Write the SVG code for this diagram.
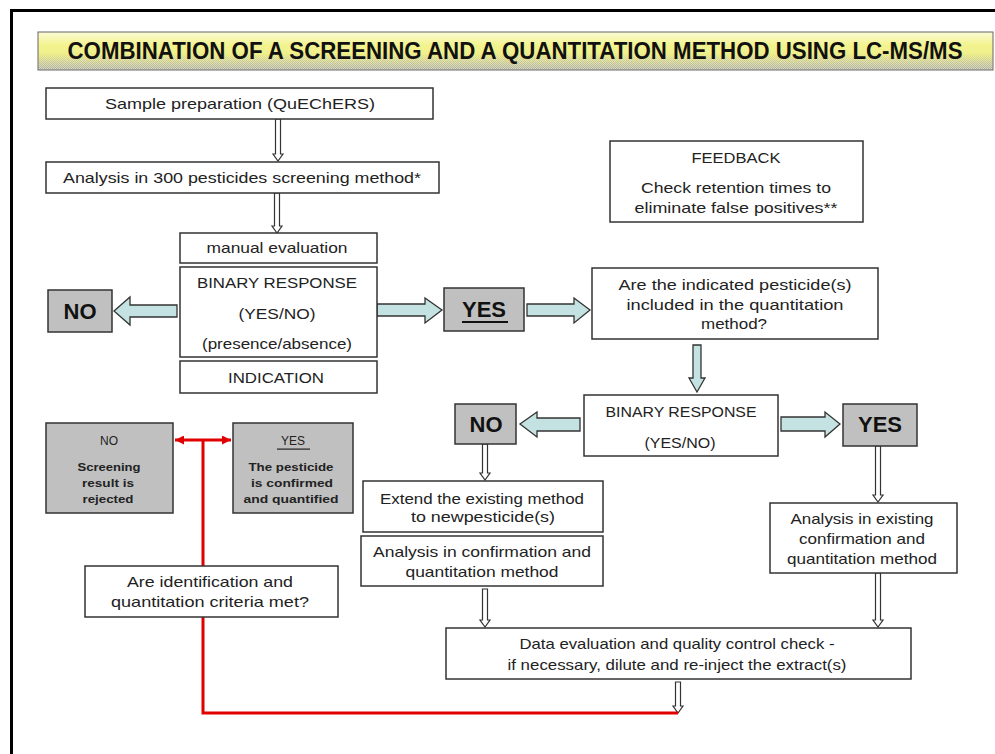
<svg xmlns="http://www.w3.org/2000/svg" width="995" height="754" viewBox="0 0 995 754">
<defs>
<linearGradient id="ban" x1="0" y1="0" x2="0" y2="1">
<stop offset="0" stop-color="#fbfbd6"/>
<stop offset="0.35" stop-color="#f3f38e"/>
<stop offset="0.6" stop-color="#eeee8c"/>
<stop offset="1" stop-color="#d6d6c4"/>
</linearGradient>
<pattern id="dith" width="2" height="2" patternUnits="userSpaceOnUse">
<rect x="0" y="0" width="1" height="1" fill="#9a9a90"/>
<rect x="1" y="1" width="1" height="1" fill="#9a9a90"/>
</pattern>
<linearGradient id="fadeg" x1="0" y1="0" x2="0" y2="1">
<stop offset="0" stop-color="#fff" stop-opacity="0"/>
<stop offset="0.55" stop-color="#fff" stop-opacity="0"/>
<stop offset="1" stop-color="#fff" stop-opacity="0.9"/>
</linearGradient>
<mask id="fm"><rect x="38" y="32" width="955" height="38" fill="url(#fadeg)"/></mask>
<marker id="rh" viewBox="0 0 10 10" refX="10" refY="5" markerWidth="3" markerHeight="3" orient="auto-start-reverse" markerUnits="strokeWidth">
<path d="M0,0 L10,5 L0,10 Z" fill="#e00000"/>
</marker>
</defs>
<style>
.bx{fill:#fff;stroke:#333;stroke-width:1.5}
.gb{fill:#c0c0c0;stroke:#333;stroke-width:1.5}
.t{font-family:"Liberation Sans",Arial,sans-serif;font-size:15px;fill:#222;text-anchor:middle}
.big{font-family:"Liberation Sans",Arial,sans-serif;font-size:22px;font-weight:bold;fill:#111;text-anchor:middle}
.sm{font-family:"Liberation Sans",Arial,sans-serif;font-size:12px;fill:#222;text-anchor:middle}
.smb{font-family:"Liberation Sans",Arial,sans-serif;font-size:11px;font-weight:bold;fill:#222;text-anchor:middle}
.ba{fill:#c4e2e2;stroke:#333;stroke-width:1.3}
.ta{fill:#fff;stroke:#333;stroke-width:1.2}
.red{fill:none;stroke:#e00000;stroke-width:3}
</style>
<rect x="0" y="0" width="995" height="754" fill="#fff"/>
<path d="M11.5,754 V10.5 H995" fill="none" stroke="#000" stroke-width="3"/>

<g id="title">
<rect x="38" y="32" width="955" height="38" fill="url(#ban)" stroke="#666" stroke-width="1"/>
<rect x="38.5" y="52" width="954" height="17.5" fill="url(#dith)" mask="url(#fm)" opacity="0.8"/>
<text transform="translate(515,59) scale(1,1.1)" x="0" y="0" font-family="'Liberation Sans Narrow','Liberation Sans',Arial,sans-serif" font-size="21" font-weight="bold" fill="#111" text-anchor="middle" textLength="895" lengthAdjust="spacingAndGlyphs">COMBINATION OF A SCREENING AND A QUANTITATION METHOD USING LC-MS/MS</text>
</g>

<g id="connectors">
<path class="ta" d="M275.5,119 V154 H273 L278,161 L283,154 H280.5 V119 Z"/>
<path class="ta" d="M274.5,193 V226 H272 L277,233 L282,226 H279.5 V193 Z"/>
<path class="ta" d="M482.5,444 V473 H480 L485,480 L490,473 H487.5 V444 Z"/>
<path class="ta" d="M482.5,589 V620 H480 L485,627 L490,620 H487.5 V589 Z"/>
<path class="ta" d="M875.5,446 V495 H873 L878,502 L883,495 H880.5 V446 Z"/>
<path class="ta" d="M875.5,573 V620 H873 L878,627 L883,620 H880.5 V573 Z"/>
<path class="ta" d="M675.5,682 V706 H673 L678,713 L683,706 H680.5 V682 Z"/>
<path class="ba" d="M177,305 H130 V297 L114,311 L130,325 V317 H177 Z"/>
<path class="ba" d="M377,304 H425 V298 L442,310 L425,323 V316 H377 Z"/>
<path class="ba" d="M527,304 H574 V298 L590,310 L574,323 V316 H527 Z"/>
<path class="ba" d="M693,345 V378 H689 L697,392 L705,378 H701 V345 Z"/>
<path class="ba" d="M580,418 H537 V412 L520,424 L537,437 V431 H580 Z"/>
<path class="ba" d="M781,417 H825 V412 L840,424 L825,437 V431 H781 Z"/>
<path class="red" d="M203,440 V713 H678"/>
<path class="red" d="M175,440 H231" marker-start="url(#rh)" marker-end="url(#rh)"/>
</g>

<g id="sample-prep">
<rect class="bx" x="46" y="88" width="387" height="31"/>
<text class="t" x="240" y="109" textLength="270" lengthAdjust="spacingAndGlyphs">Sample preparation (QuEChERS)</text>
</g>

<g id="analysis-screening">
<rect class="bx" x="46" y="162" width="393" height="31"/>
<text class="t" x="242" y="183" textLength="358" lengthAdjust="spacingAndGlyphs">Analysis in 300 pesticides screening method*</text>
</g>

<g id="manual-evaluation">
<rect class="bx" x="180" y="233" width="197" height="30"/>
<text class="t" x="277" y="253" textLength="141" lengthAdjust="spacingAndGlyphs">manual evaluation</text>
</g>

<g id="binary-response-1">
<rect class="bx" x="180" y="267" width="197" height="90"/>
<text class="t" x="277" y="288" textLength="160" lengthAdjust="spacingAndGlyphs">BINARY RESPONSE</text>
<text class="t" x="277" y="319" textLength="77" lengthAdjust="spacingAndGlyphs">(YES/NO)</text>
<text class="t" x="277" y="349" textLength="150" lengthAdjust="spacingAndGlyphs">(presence/absence)</text>
</g>

<g id="indication">
<rect class="bx" x="180" y="361" width="197" height="32"/>
<text class="t" x="276" y="383" textLength="96" lengthAdjust="spacingAndGlyphs">INDICATION</text>
</g>

<g id="no-1">
<rect class="gb" x="48" y="290" width="64" height="42"/>
<text class="big" x="80" y="319">NO</text>
</g>

<g id="yes-1">
<rect class="gb" x="444" y="288" width="80" height="43"/>
<text class="big" x="484" y="317">YES</text>
<rect x="462" y="321" width="46" height="2" fill="#111"/>
</g>

<g id="feedback">
<rect class="bx" x="610" y="141" width="253" height="81"/>
<text class="t" x="736" y="163" textLength="89" lengthAdjust="spacingAndGlyphs">FEEDBACK</text>
<text class="t" x="736" y="193" textLength="190" lengthAdjust="spacingAndGlyphs">Check retention times to</text>
<text class="t" x="736" y="213" textLength="203" lengthAdjust="spacingAndGlyphs">eliminate false positives**</text>
</g>

<g id="included-question">
<rect class="bx" x="592" y="268" width="286" height="71"/>
<text class="t" x="735" y="290" textLength="233" lengthAdjust="spacingAndGlyphs">Are the indicated pesticide(s)</text>
<text class="t" x="735" y="310" textLength="217" lengthAdjust="spacingAndGlyphs">included in the quantitation</text>
<text class="t" x="734" y="329" textLength="66" lengthAdjust="spacingAndGlyphs">method?</text>
</g>

<g id="binary-response-2">
<rect class="bx" x="584" y="395" width="194" height="61"/>
<text class="t" x="681" y="417" textLength="151" lengthAdjust="spacingAndGlyphs">BINARY RESPONSE</text>
<text class="t" x="680" y="448" textLength="71" lengthAdjust="spacingAndGlyphs">(YES/NO)</text>
</g>

<g id="no-2">
<rect class="gb" x="455" y="404" width="61" height="40"/>
<text class="big" x="486" y="432">NO</text>
</g>

<g id="yes-2">
<rect class="gb" x="843" y="404" width="74" height="42"/>
<text class="big" x="880" y="432">YES</text>
</g>

<g id="extend-method">
<rect class="bx" x="363" y="481" width="240" height="51"/>
<text class="t" x="482" y="504" textLength="204" lengthAdjust="spacingAndGlyphs">Extend the existing method</text>
<text class="t" x="483" y="522" textLength="144" lengthAdjust="spacingAndGlyphs">to newpesticide(s)</text>
</g>

<g id="analysis-confirmation">
<rect class="bx" x="361" y="536" width="242" height="50"/>
<text class="t" x="482" y="557" textLength="218" lengthAdjust="spacingAndGlyphs">Analysis in confirmation and</text>
<text class="t" x="482" y="577" textLength="153" lengthAdjust="spacingAndGlyphs">quantitation method</text>
</g>

<g id="analysis-existing">
<rect class="bx" x="770" y="503" width="187" height="70"/>
<text class="t" x="862" y="524" textLength="143" lengthAdjust="spacingAndGlyphs">Analysis in existing</text>
<text class="t" x="862" y="544" textLength="126" lengthAdjust="spacingAndGlyphs">confirmation and</text>
<text class="t" x="862" y="564" textLength="150" lengthAdjust="spacingAndGlyphs">quantitation method</text>
</g>

<g id="data-evaluation">
<rect class="bx" x="446" y="628" width="465" height="51"/>
<text class="t" x="677" y="649" textLength="315" lengthAdjust="spacingAndGlyphs">Data evaluation and quality control check -</text>
<text class="t" x="677" y="670" textLength="339" lengthAdjust="spacingAndGlyphs">if necessary, dilute and re-inject the extract(s)</text>
</g>

<g id="result-no">
<rect class="gb" x="46" y="423" width="127" height="90"/>
<text class="sm" x="109" y="445">NO</text>
<text class="smb" x="109" y="471" textLength="63" lengthAdjust="spacingAndGlyphs">Screening</text>
<text class="smb" x="108" y="487" textLength="52" lengthAdjust="spacingAndGlyphs">result is</text>
<text class="smb" x="108" y="503" textLength="51" lengthAdjust="spacingAndGlyphs">rejected</text>
</g>

<g id="result-yes">
<rect class="gb" x="233" y="423" width="120" height="90"/>
<text class="sm" x="293" y="445">YES</text>
<rect x="277" y="448.5" width="33" height="1.2" fill="#222"/>
<text class="smb" x="291" y="471" textLength="85" lengthAdjust="spacingAndGlyphs">The pesticide</text>
<text class="smb" x="292" y="487" textLength="82" lengthAdjust="spacingAndGlyphs">is confirmed</text>
<text class="smb" x="291" y="503" textLength="95" lengthAdjust="spacingAndGlyphs">and quantified</text>
</g>

<g id="criteria-question">
<rect class="bx" x="85" y="566" width="253" height="51"/>
<text class="t" x="210" y="587" textLength="166" lengthAdjust="spacingAndGlyphs">Are identification and</text>
<text class="t" x="210" y="607" textLength="198" lengthAdjust="spacingAndGlyphs">quantitation criteria met?</text>
</g>
</svg>
